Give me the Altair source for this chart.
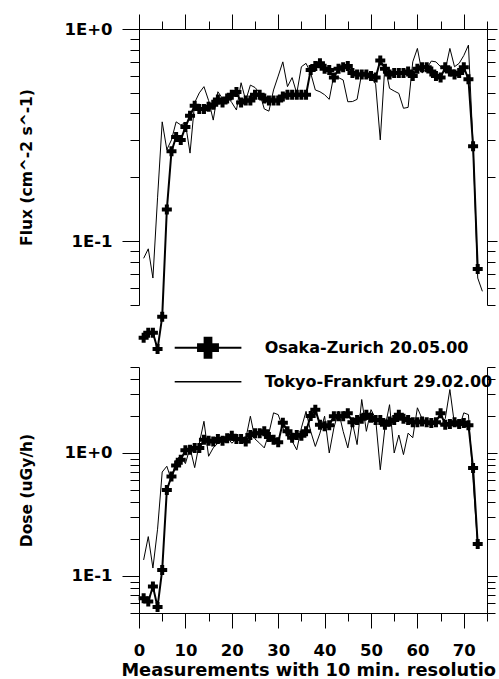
import altair as alt
import pandas as pd

# ---------------- data ----------------
osaka_flux = [0.035, 0.037, 0.037, 0.031, 0.044, 0.141, 0.265, 0.31, 0.30, 0.345,
              0.39, 0.435, 0.42, 0.42, 0.43, 0.44, 0.465, 0.45, 0.47, 0.49,
              0.505, 0.45, 0.46, 0.46, 0.49, 0.49, 0.47, 0.46, 0.46, 0.46,
              0.48, 0.49, 0.49, 0.49, 0.49, 0.49, 0.64, 0.67, 0.69, 0.65,
              0.64, 0.59, 0.65, 0.66, 0.67, 0.62, 0.61, 0.61, 0.61, 0.60,
              0.59, 0.71, 0.65, 0.61, 0.62, 0.62, 0.62, 0.63, 0.60, 0.65,
              0.66, 0.66, 0.63, 0.60, 0.59, 0.66, 0.63, 0.61, 0.62, 0.66,
              0.58, 0.28, 0.074]
tokyo_flux = [0.083, 0.092, 0.067, 0.16, 0.365, 0.27, 0.30, 0.365, 0.353, 0.36,
              0.26, 0.45, 0.50, 0.535, 0.46, 0.372, 0.506, 0.47, 0.48, 0.45,
              0.415, 0.558, 0.46, 0.544, 0.53, 0.50, 0.42, 0.41, 0.516, 0.60,
              0.70, 0.535, 0.59, 0.497, 0.664, 0.689, 0.62, 0.516, 0.506, 0.49,
              0.466, 0.607, 0.59, 0.575, 0.454, 0.455, 0.466, 0.618, 0.63, 0.60,
              0.55, 0.30, 0.676, 0.525, 0.51, 0.497, 0.423, 0.427, 0.70, 0.81,
              0.62, 0.65, 0.706, 0.70, 0.664, 0.64, 0.81, 0.664, 0.689, 0.75,
              0.84, 0.28, 0.067, 0.058]
osaka_dose = [0.066, 0.062, 0.082, 0.056, 0.112, 0.50, 0.645, 0.79, 0.88, 1.05,
              1.06, 1.1, 1.1, 1.28, 1.26, 1.24, 1.3, 1.26, 1.32, 1.38,
              1.3, 1.3, 1.24, 1.4, 1.45, 1.45, 1.5, 1.35, 1.28, 1.22,
              1.76, 1.5, 1.33, 1.4, 1.38, 1.5, 2.0, 2.25, 1.7, 1.65,
              1.68, 1.99, 1.99, 1.99, 2.1, 1.78, 1.85, 1.9, 2.05, 1.93,
              1.85, 1.85, 1.7, 1.8, 1.85, 2.05, 1.9, 1.85, 1.78, 1.78,
              1.8, 1.78, 1.75, 1.78, 2.1, 1.7, 1.72, 1.78, 1.72, 1.75,
              1.68, 0.755, 0.182]
tokyo_dose = [0.135, 0.209, 0.116, 0.24, 0.70, 0.78, 0.60, 0.88, 0.95, 0.82,
              1.10, 0.76, 1.2, 1.81, 0.94, 1.1, 1.2, 1.25, 1.35, 1.2,
              1.3, 1.25, 1.3, 1.99, 1.3, 1.2, 1.1, 1.45, 2.12, 2.05,
              1.6, 1.37, 1.25, 1.06, 1.6, 2.18, 1.5, 1.13, 1.45, 1.99,
              1.0, 1.6, 2.18, 1.5, 1.1, 1.76, 1.17, 2.72, 1.5, 2.25,
              1.9, 0.73, 1.6, 2.47, 1.0, 1.4, 0.97, 1.45, 1.33, 2.33,
              1.9, 1.75, 1.65, 1.8, 1.7, 1.9, 3.28, 1.7, 1.6, 2.12,
              2.05, 0.6, 0.174]

series_names = ["Osaka-Zurich 20.05.00", "Tokyo-Frankfurt 29.02.00"]
x_tick_values = [0, 5, 10, 15, 20, 25, 30, 35, 40, 45, 50, 55, 60, 65, 70, 75]
flux_tick_values = [0.05, 0.06, 0.07, 0.08, 0.09, 0.1, 0.2, 0.3, 0.4, 0.5,
                    0.6, 0.7, 0.8, 0.9, 1.0]
dose_tick_values = flux_tick_values + [2, 3, 4, 5]
x_title = "Measurements with 10 min. resolution"
flux_title = "Flux (cm^-2 s^-1)"
dose_title = "Dose (uGy/h)"

FONT = "DejaVu Sans"
Y_MAJOR = "datum.value == 1 || datum.value == 0.1"
X_MAJOR = "datum.value % 10 == 0"


def series_df(values):
    return pd.DataFrame({"x": list(range(1, len(values) + 1)), "v": values})


x_scale = alt.Scale(domain=[0, 75], nice=False, zero=False)


def x_axis(orient):
    common = dict(orient=orient, values=x_tick_values, grid=False,
                  domainColor="black", tickColor="black", domainWidth=1, tickWidth=1,
                  tickSize={"condition": {"test": X_MAJOR, "value": 15}, "value": 8})
    if orient == "top":
        return alt.Axis(labels=False, title=None, **common)
    return alt.Axis(labelExpr="datum.value % 10 == 0 ? datum.label : ''",
                    labelFlush=False, labelOverlap=False, labelPadding=14,
                    labelFont=FONT, labelFontSize=16.5, labelFontWeight="bold",
                    labelColor="black", title=None, **common)


def y_axis(orient, ticks, title):
    common = dict(orient=orient, values=ticks, grid=False, labelOverlap=False,
                  domainColor="black", tickColor="black", domainWidth=1, tickWidth=1)
    if orient == "left":
        return alt.Axis(tickSize={"condition": {"test": Y_MAJOR, "value": 17}, "value": 9},
                        labelExpr="datum.value == 1 ? '1E+0' : (datum.value == 0.1 ? '1E-1' : '')",
                        labelFont=FONT, labelFontSize=16.5, labelFontWeight="bold",
                        labelColor="black", labelPadding=10,
                        title=title, titleFont=FONT, titleFontSize=15.5,
                        titleFontWeight="bold", titleColor="black", titlePadding=29,
                        **common)
    return alt.Axis(tickSize={"condition": {"test": Y_MAJOR, "value": 10}, "value": 8},
                    labels=False, title=None, **common)


def panel(osaka, tokyo, ticks, domain, title, height, x_orient, legend=False):
    y_scale = alt.Scale(type="log", domain=domain, nice=False)
    X = alt.X("x:Q", scale=x_scale, axis=x_axis(x_orient))
    Y_left = alt.Y("v:Q", scale=y_scale, axis=y_axis("left", ticks, title))
    Y_right = alt.Y("v:Q", scale=y_scale, axis=y_axis("right", ticks, title))
    tok = alt.Chart(series_df(tokyo)).mark_line(color="black", strokeWidth=1).encode(x=X, y=Y_left)
    osa_line = alt.Chart(series_df(osaka)).mark_line(color="black", strokeWidth=2).encode(x=X, y=Y_left)
    osa_pts = alt.Chart(series_df(osaka)).mark_point(
        shape="cross", filled=True, color="black", size=100, opacity=1).encode(x=X, y=Y_left)
    main = alt.layer(tok, osa_line, osa_pts)
    right = alt.Chart(series_df(osaka)).mark_point(opacity=0).encode(x=X, y=Y_right)
    layers = [main, right]
    if legend:
        lo = pd.DataFrame({"label": [series_names[0]]})
        lt = pd.DataFrame({"label": [series_names[1]]})
        xt = pd.DataFrame({"label": [x_title]})
        layers += [
            alt.Chart(lo).mark_rule(color="black", strokeWidth=2).encode(
                x=alt.value(35.7), x2=alt.value(102.4), y=alt.value(-19.3)),
            alt.Chart(lo).mark_point(shape="cross", filled=True, color="black",
                                     size=480, opacity=1).encode(
                x=alt.value(69), y=alt.value(-19.3)),
            alt.Chart(lt).mark_rule(color="black", strokeWidth=1.5).encode(
                x=alt.value(35.7), x2=alt.value(102.4), y=alt.value(14.7)),
            alt.Chart(lo).mark_text(align="left", baseline="middle", font=FONT,
                                    fontSize=16, fontWeight="bold", color="black").encode(
                x=alt.value(125.7), y=alt.value(-19.3), text="label:N"),
            alt.Chart(lt).mark_text(align="left", baseline="middle", font=FONT,
                                    fontSize=16, fontWeight="bold", color="black").encode(
                x=alt.value(125.7), y=alt.value(14.7), text="label:N"),
            # x-axis title, cut off at the right edge as in the reference
            alt.Chart(xt).mark_text(align="left", baseline="alphabetic", font=FONT,
                                    fontSize=17.8, fontWeight="bold", color="black",
                                    limit=377, ellipsis="\u200b").encode(
                x=alt.value(-17.6), y=alt.value(308.5), text="label:N"),
        ]
    return alt.layer(*layers).resolve_axis(y="independent").properties(width=348, height=height)


top = panel(osaka_flux, tokyo_flux, flux_tick_values, [0.05, 1.0], flux_title, 276, "top")
bottom = panel(osaka_dose, tokyo_dose, dose_tick_values, [0.05, 5.0], dose_title, 246, "bottom", legend=True)

chart = alt.vconcat(top, bottom, spacing=62, bounds="flush").properties(
    padding={"left": 19, "top": 13, "right": 0, "bottom": 0},
    background="white",
).configure_view(stroke=None)

chart.save("out.html", embed_options={"renderer": "svg", "actions": False})
